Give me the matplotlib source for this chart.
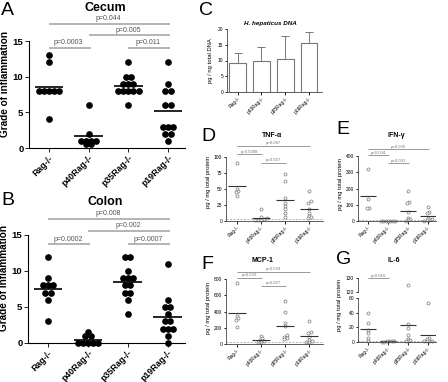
import numpy as np
import matplotlib.pyplot as plt

W, H = 448, 382

groups = ['Rag-/-', 'p40Rag-/-', 'p35Rag-/-', 'p19Rag-/-']

# A: cecum inflammation scores
cecum = [
    [13, 12, 8, 8, 8, 8, 8, 4],
    [6, 2, 1, 1, 1, 1, 0.5, 0.5],
    [12, 10, 10, 9, 9, 9, 8, 8, 8, 8, 8, 6],
    [12, 9, 8, 8, 6, 6, 3, 3, 3, 2, 2, 1],
]
cecum_p = [(0, 3, 17.4, 'p=0.044'), (1, 3, 15.8, 'p=0.005'),
           (0, 1, 14.0, 'p=0.0003'), (2, 3, 14.0, 'p=0.011')]

# B: colon inflammation scores
colon = [
    [12, 9, 8, 8, 8, 7, 7, 6, 3],
    [1.5, 1, 1, 0, 0, 0, 0, 0],
    [12, 12, 10, 9, 9, 9, 8, 8, 7, 7, 6, 4],
    [11, 6, 5, 5, 4, 3, 3, 2, 2, 2, 1, 0],
]
colon_p = [(0, 3, 17.2, 'p=0.008'), (1, 3, 15.6, 'p=0.002'),
           (0, 1, 13.7, 'p=0.0002'), (2, 3, 13.7, 'p=0.0007')]

# C: H. hepaticus DNA
dna_mean = [9.2, 9.8, 10.4, 15.5]
dna_err = [3.2, 4.4, 7.3, 3.7]

# D-G: cytokines
tnf = [
    [91, 50, 47, 45, 39],
    [19, 6, 4, 3, 2, 2, 1],
    [73, 62, 36, 28, 24, 19, 13, 6],
    [47, 31, 28, 19, 12, 8, 6, 4],
]
tnf_p = [(0, 3, 117, 'p=0.087'), (0, 1, 104, 'p=0.0008'), (1, 2, 91, 'p=0.027')]

ifn = [
    [320, 135, 80, 78],
    [3, 2, 2, 1, 1, 1, 0],
    [185, 118, 108, 55, 18, 12, 8, 3],
    [88, 55, 50, 20, 10, 8, 5, 2],
]
ifn_p = [(0, 3, 443, 'p=0.005'), (0, 1, 406, 'p=0.004'), (1, 2, 357, 'p=0.031')]

mcp = [
    [750, 340, 320, 300, 210],
    [100, 70, 50, 40, 30, 20],
    [530, 400, 260, 220, 110, 90, 80, 60],
    [285, 150, 130, 90, 50, 40, 30, 20],
]
mcp_p = [(0, 3, 889, 'p=0.004'), (0, 1, 815, 'p=0.003'), (1, 2, 716, 'p=0.037')]

il6 = [
    [40, 26, 17, 12, 6, 2],
    [2, 1.5, 1, 1, 0.5, 0],
    [125, 24, 19, 9, 4, 3, 2, 1],
    [53, 5, 4, 2, 2, 1, 1],
]


def px_axes(fig, left, top, right, bottom):
    return fig.add_axes([left / W, 1 - bottom / H, (right - left) / W, (bottom - top) / H])


def ftext(fig, x, y, s, **kw):
    fig.text(x / W, 1 - y / H, s, **kw)


def spread(vals, dx, tol):
    vals = np.asarray(vals, float)
    order = np.argsort(vals)
    offs = np.zeros(len(vals))
    i = 0
    while i < len(order):
        j = i
        while j + 1 < len(order) and vals[order[j + 1]] - vals[order[i]] <= tol:
            j += 1
        n = j - i + 1
        for k in range(n):
            offs[order[i + k]] = (k - (n - 1) / 2) * dx
        i = j + 1
    return offs


def style(ax, fs, bold, ticklen):
    ax.spines['top'].set_visible(False)
    ax.spines['right'].set_visible(False)
    ax.tick_params(length=ticklen, width=0.6, labelsize=fs, pad=1)
    ax.set_xticks(range(4))
    ax.set_xticklabels(groups, rotation=45, ha='right', rotation_mode='anchor',
                       fontweight='bold' if bold else 'normal')
    if bold:
        for t in ax.get_yticklabels():
            t.set_fontweight('bold')


def pline(ax, i, j, y, txt, fs, lw, lc, tc, dy):
    ax.plot([i, j + 0.05], [y, y], color=lc, lw=lw, clip_on=False, solid_capstyle='butt')
    ax.text((i + j) / 2, y + dy, txt, ha='center', va='bottom', fontsize=fs,
            color=tc, clip_on=False)


def score_panel(ax, data, pvals):
    for i, vals in enumerate(data):
        offs = spread(vals, 0.13, 0)
        ax.plot(i + offs, vals, 'o', ms=3.8, color='black', clip_on=False)
        ax.hlines(np.mean(vals), i - 0.36, i + 0.36, color='black', lw=1.2)
    ax.set_xlim(-0.5, 3.43)
    ax.set_ylim(0, 18)
    ax.set_yticks([0, 5, 10, 15])
    ax.spines['left'].set_bounds(0, 15)
    style(ax, 6.3, True, 3)
    ax.tick_params(axis='y', labelsize=6.8)
    ax.set_ylabel('Grade of inflammation', fontsize=7.2, fontweight='bold', labelpad=2)
    for i, j, y, t in pvals:
        pline(ax, i, j, y, t, 5, 1.2, '#a8a8a8', '#555555', 0.25)


def cyto_panel(ax, data, pvals, ymax, top, ticks, dash, sub=None):
    rng = ticks[-1]
    for i, vals in enumerate(data):
        vals = np.asarray(vals, float)
        offs = spread(vals, 0.12, rng * 0.035)
        keep = vals <= (sub if sub else np.inf)
        ax.plot(i + offs[keep], vals[keep], 'o', ms=2.2, mfc='white', mec='#777777',
                mew=0.5, clip_on=False)
        ax.hlines(np.mean(vals), i - 0.38, i + 0.38, color='#333333', lw=0.8)
    ax.axhline(dash, color='#999999', lw=0.5, ls=(0, (3, 2)))
    ax.set_ylim(0, top)
    ax.set_yticks(ticks)
    ax.spines['left'].set_bounds(0, ticks[-1])
    style(ax, 3.5, False, 1.8)
    for sp in ax.spines.values():
        sp.set_linewidth(0.6)
        sp.set_color('#444444')
    ax.set_ylabel('pg / mg total protein', fontsize=4.2, labelpad=2)
    for i, j, y, t in pvals:
        pline(ax, i, j, y, t, 3.1, 0.6, '#888888', '#777777', top * 0.008)


fig = plt.figure(figsize=(W / 100, H / 100), dpi=100)
plt.rcParams['font.family'] = ['Liberation Sans', 'DejaVu Sans']

# A
axA = px_axes(fig, 29, 19.7, 185, 148)
score_panel(axA, cecum, cecum_p)
ftext(fig, 105, 8, 'Cecum', ha='center', va='center', fontsize=9, fontweight='bold')
ftext(fig, 1, 2, 'A', ha='left', va='top', fontsize=14)

# B
axB = px_axes(fig, 28, 213.4, 185, 343)
score_panel(axB, colon, colon_p)
ftext(fig, 105, 202, 'Colon', ha='center', va='center', fontsize=9, fontweight='bold')
ftext(fig, 1, 192, 'B', ha='left', va='top', fontsize=14)

# C
axC = px_axes(fig, 227, 29, 322, 92)
axC.bar(range(4), dna_mean, width=0.7, color='white', edgecolor='#777777', lw=0.8)
axC.errorbar(range(4), dna_mean, yerr=[np.zeros(4), dna_err], fmt='none',
             ecolor='#777777', elinewidth=0.7, capsize=3, capthick=0.7)
axC.set_xlim(-0.45, 3.55)
axC.set_ylim(0, 20)
axC.set_yticks([0, 5, 10, 15, 20])
style(axC, 3.5, False, 1.8)
for sp in axC.spines.values():
    sp.set_linewidth(0.6)
    sp.set_color('#444444')
axC.set_ylabel('pg / ng total DNA', fontsize=4.2, labelpad=3)
ftext(fig, 270, 23, 'H. hepaticus DNA', ha='center', va='center', fontsize=4.5,
      fontweight='bold', fontstyle='italic')
ftext(fig, 199, 2, 'C', ha='left', va='top', fontsize=14)

# D
axD = px_axes(fig, 226, 144, 323, 221)
cyto_panel(axD, tnf, tnf_p, 100, 120, [0, 25, 50, 75, 100], 3)
axD.set_xlim(-0.46, 3.58)
ftext(fig, 272, 135, 'TNF-α', ha='center', va='center', fontsize=5, fontweight='bold')
ftext(fig, 201, 128, 'D', ha='left', va='top', fontsize=14)

# E
axE = px_axes(fig, 358, 148, 436, 221)
cyto_panel(axE, ifn, ifn_p, 400, 450, [0, 100, 200, 300, 400], 5)
axE.set_xlim(-0.5, 3.4)
ftext(fig, 396, 135, 'IFN-γ', ha='center', va='center', fontsize=5, fontweight='bold')
ftext(fig, 336, 121, 'E', ha='left', va='top', fontsize=14)

# F
axF = px_axes(fig, 226, 271, 323, 344)
cyto_panel(axF, mcp, mcp_p, 800, 900, [0, 200, 400, 600, 800], 20)
axF.set_xlim(-0.46, 3.58)
ftext(fig, 262, 260, 'MCP-1', ha='center', va='center', fontsize=5, fontweight='bold')
ftext(fig, 201, 256, 'F', ha='left', va='top', fontsize=14)

# G (broken y axis)
axG = px_axes(fig, 358, 298, 436, 342)
cyto_panel(axG, il6, [], 60, 60, [0, 20, 40, 60], 1.5, sub=60)
axG.set_xlim(-0.5, 3.4)
axG.yaxis.set_label_coords(-0.2, 0.85)
axGu = px_axes(fig, 358, 278, 436, 292)
for i, vals in enumerate(il6):
    vals = np.asarray(vals, float)
    offs = spread(vals, 0.12, 60 * 0.035)
    hi = vals > 60
    axGu.plot(i + offs[hi], vals[hi], 'o', ms=2.2, mfc='white', mec='#777777',
              mew=0.5, clip_on=False)
axGu.set_xlim(-0.5, 3.4)
axGu.set_ylim(120, 130)
axGu.set_yticks([120, 130])
axGu.set_xticks([])
for s in ['top', 'right', 'bottom']:
    axGu.spines[s].set_visible(False)
axGu.spines['left'].set_linewidth(0.6)
axGu.spines['left'].set_color('#444444')
axGu.tick_params(length=1.8, width=0.6, labelsize=3.5, pad=1)
pline(axGu, 0, 1, 130, 'p=0.016', 3.1, 0.6, '#888888', '#777777', 0.3)
axGu.patch.set_visible(False)
ftext(fig, 394, 261, 'IL-6', ha='center', va='center', fontsize=5, fontweight='bold')
ftext(fig, 336, 251, 'G', ha='left', va='top', fontsize=14)

fig.savefig('out.png', dpi=100)
